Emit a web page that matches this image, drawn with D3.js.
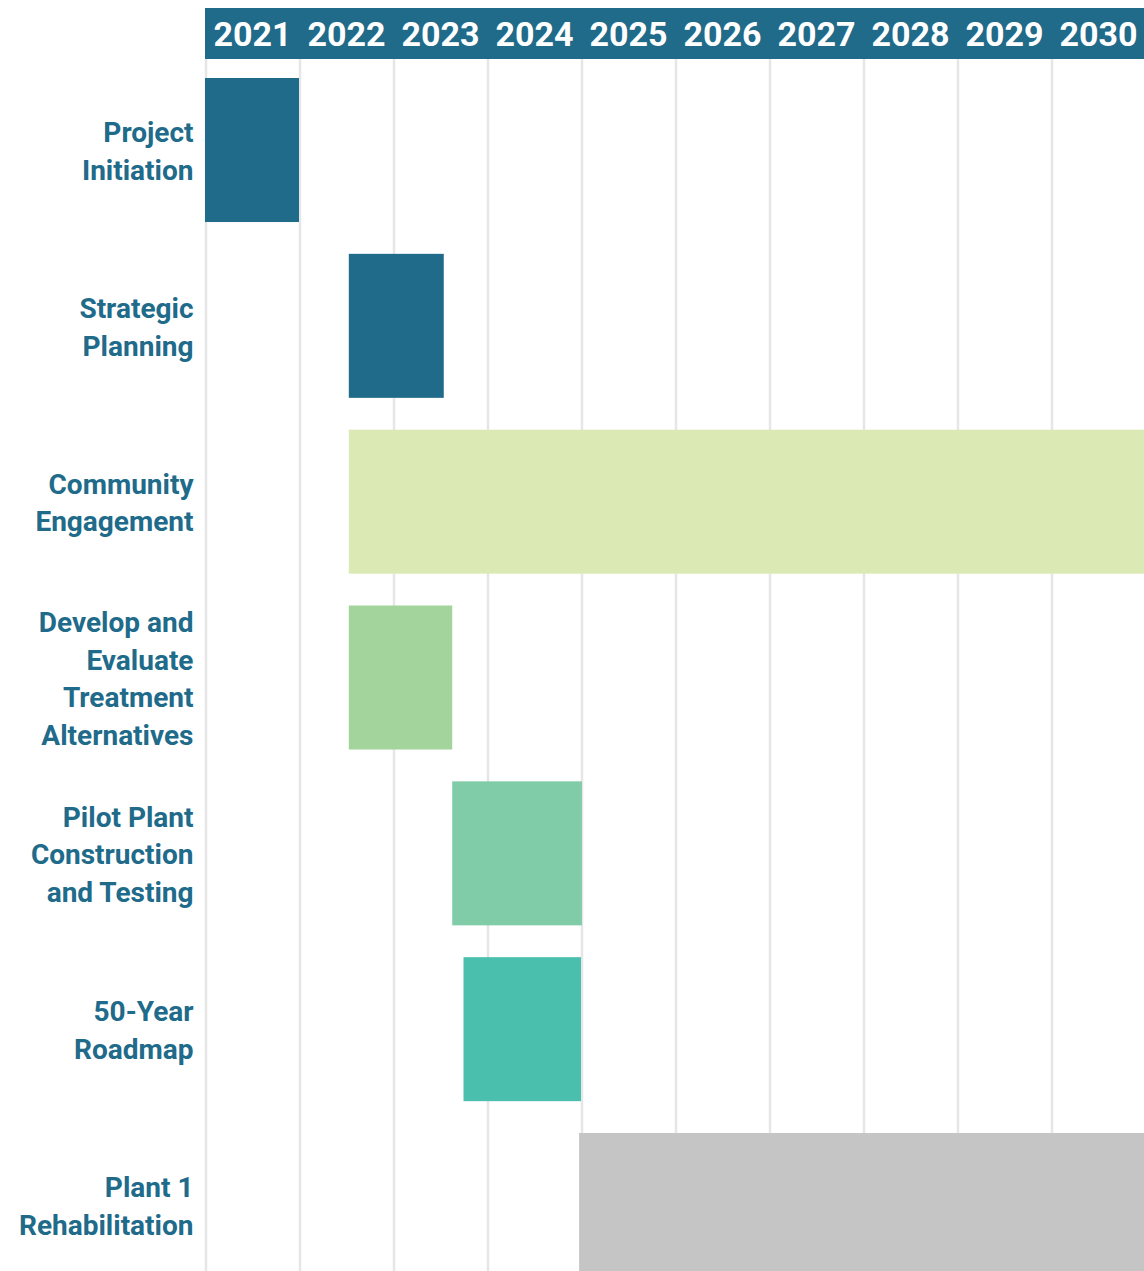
<!DOCTYPE html>
<html>
<head>
<meta charset="utf-8">
<script src="https://cdn.jsdelivr.net/npm/d3@7"></script>
<style>
  html, body { margin: 0; padding: 0; background: #ffffff; overflow: hidden; }
  svg { display: block; font-family: Roboto, "Noto Sans", sans-serif; }
</style>
</head>
<body>
<svg id="chart" width="1144" height="1271"></svg>
<script>
// ---- data ----
const tasks = [
  "Project Initiation",
  "Strategic Planning",
  "Community Engagement",
  "Develop and Evaluate Treatment Alternatives",
  "Pilot Plant Construction and Testing",
  "50-Year Roadmap",
  "Plant 1 Rehabilitation"
];
const taskLabelLines = [
  ["Project", "Initiation"],
  ["Strategic", "Planning"],
  ["Community", "Engagement"],
  ["Develop and", "Evaluate", "Treatment", "Alternatives"],
  ["Pilot Plant", "Construction", "and Testing"],
  ["50-Year", "Roadmap"],
  ["Plant 1", "Rehabilitation"]
];
const taskStart = [2021.0, 2022.53, 2022.53, 2022.53, 2023.63, 2023.75, 2024.98];
const taskEnd   = [2022.0, 2023.54, 2031.0, 2023.63, 2025.01, 2025.0, 2031.0];
const years = [2021, 2022, 2023, 2024, 2025, 2026, 2027, 2028, 2029, 2030];
const taskColors = ["#206a8a", "#206a8a", "#dbeab5", "#a3d49c", "#80cca8", "#4bbfad", "#c5c5c5"];

// ---- layout ----
const svg = d3.select("#chart");
const W = 1144, H = 1271;
const headerTop = 8, headerBottom = 59;
const mainColor = "#206a8a";

const x = d3.scaleLinear().domain([2021, 2031]).range([205, 1145]);
const y = d3.scaleBand().domain(tasks)
  .range([62.1, 62.1 + 7 * 175.83])
  .paddingInner(0.181).paddingOuter(0.0905);
const color = d3.scaleOrdinal().domain(tasks).range(taskColors);

// grid lines
svg.append("g").selectAll("line").data(years).join("line")
  .attr("x1", d => x(d) + 1).attr("x2", d => x(d) + 1)
  .attr("y1", headerBottom).attr("y2", H)
  .attr("stroke", "#e6e6e6").attr("stroke-width", 2.5);

// header band
svg.append("rect")
  .attr("x", x(2021)).attr("y", headerTop)
  .attr("width", W - x(2021)).attr("height", headerBottom - headerTop)
  .attr("fill", mainColor);

// year labels via axis
const axis = d3.axisTop(x).tickValues(years.map(d => d + 0.5))
  .tickFormat(d => String(Math.floor(d))).tickSize(0).tickPadding(0);
const axG = svg.append("g").attr("transform", `translate(0,46)`).call(axis);
axG.select(".domain").remove();
axG.selectAll("text")
  .attr("fill", "#ffffff").attr("font-size", 34).attr("font-weight", 700)
  .attr("font-family", "Roboto, sans-serif").attr("dy", 0);

// bars
svg.append("g").selectAll("rect").data(tasks).join("rect")
  .attr("x", (d, i) => x(taskStart[i]))
  .attr("y", d => y(d))
  .attr("width", (d, i) => x(taskEnd[i]) - x(taskStart[i]))
  .attr("height", y.bandwidth())
  .attr("fill", d => color(d));

// labels
const lineH = 37.5;
const lab = svg.append("g").selectAll("text").data(tasks).join("text")
  .attr("text-anchor", "end")
  .attr("fill", mainColor)
  .attr("font-size", 28).attr("font-weight", 700)
  .attr("font-family", "Roboto, sans-serif");
lab.each(function(d, i) {
  const lines = taskLabelLines[i];
  const cy = y(d) + y.bandwidth() / 2;
  const first = cy - (lines.length - 1) * lineH / 2 + 11;
  d3.select(this).selectAll("tspan").data(lines).join("tspan")
    .attr("x", 193.5)
    .attr("y", (t, j) => first + j * lineH)
    .text(t => t);
});
</script>
</body>
</html>
